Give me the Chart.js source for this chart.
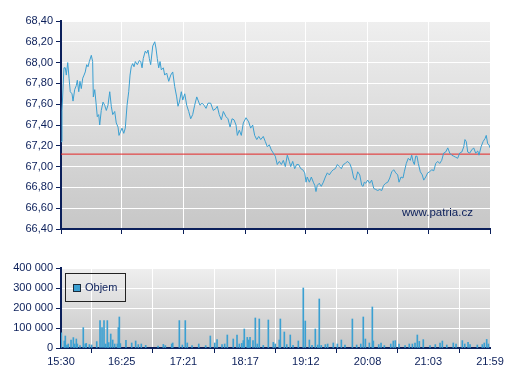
<!DOCTYPE html>
<html>
<head>
<meta charset="utf-8">
<script src="https://cdn.jsdelivr.net/npm/chart.js@4/dist/chart.umd.min.js"></script>
<style>
  body { margin: 0; background: #fff; }
  #wrap { position: relative; width: 507px; height: 380px; font-family: "Liberation Sans", Arial, sans-serif; }
  #priceChart { position: absolute; left: 0; top: 0; }
  #volChart { position: absolute; left: 0; top: 240px; }
  .watermark { position: absolute; left: 402px; top: 206px; font-size: 11.5px; color: #0b1f5a; }
  .legend { position: absolute; left: 65px; top: 273px; width: 59px; height: 27px; border: 1px solid #222; }
  .legend .sw { position: absolute; left: 7px; top: 10px; width: 6px; height: 6px; border: 1px solid #1a2a3a; background: #3ba0d2; }
  .legend .lbl { position: absolute; left: 19px; top: 7px; font-size: 11px; color: #0b1f5a; }
</style>
</head>
<body>
<div id="wrap">
  <canvas id="priceChart" width="507" height="240"></canvas>
  <canvas id="volChart" width="507" height="140"></canvas>
  <div class="watermark">www.patria.cz</div>
  <div class="legend"><div class="sw"></div><div class="lbl">Objem</div></div>
</div>
<script>
// time axis labels (session 15:30 - 21:59)
const tickLabels = ["15:30", "16:25", "17:21", "18:17", "19:12", "20:08", "21:03", "21:59"];
const refPrice = 67.12;

// minutes after 15:30
const priceTimes = [
  0, 0.9, 2.7, 3.9, 4.8, 6.1, 7.3, 8.4, 10.0, 10.9,
  12.4, 13.9, 14.8, 16.1, 17.2, 18.4, 19.7, 20.9, 22.0, 23.3,
  24.5, 25.7, 27.5, 28.7, 29.3, 30.6, 31.7, 32.9, 34.2, 35.1,
  36.5, 38.1, 39.6, 41.1, 42.6, 44.2, 45.6, 46.9, 48.7, 50.1,
  51.7, 52.6, 54.1, 55.3, 56.9, 58.3, 59.9, 61.4, 62.6, 63.7,
  65.0, 66.2, 67.4, 69.2, 71.0, 72.3, 73.5, 74.6, 76.4, 77.7,
  78.9, 80.1, 81.3, 83.2, 85.0, 86.1, 87.3, 88.6, 89.8, 91.0,
  92.8, 94.0, 95.8, 97.7, 99.5, 101.3, 103.1, 104.9, 106.1, 107.3,
  109.1, 110.4, 112.2, 114.0, 115.8, 117.6, 119.4, 121.2, 123.1, 124.2,
  126.0, 127.9, 129.7, 131.5, 133.3, 135.7, 138.1, 140.6, 141.7, 143.5,
  145.4, 147.2, 149.6, 151.4, 153.3, 155.1, 156.9, 158.7, 159.9, 161.7,
  163.5, 165.3, 167.8, 170.2, 172.0, 173.8, 175.6, 177.5, 179.3, 181.1,
  183.4, 185.3, 187.1, 188.9, 190.7, 192.5, 194.3, 196.1, 198.0, 199.8,
  201.6, 203.4, 205.2, 207.0, 208.3, 210.1, 211.9, 213.7, 215.5, 217.4,
  219.2, 221.0, 222.2, 223.3, 225.2, 227.0, 228.8, 230.1, 231.2, 232.4,
  234.2, 236.0, 237.9, 239.7, 241.5, 243.3, 245.1, 246.9, 248.7, 250.6,
  252.4, 254.2, 256.0, 257.8, 259.6, 261.8, 263.6, 265.4, 267.2, 269.0,
  270.9, 272.7, 273.9, 275.0, 276.3, 278.1, 279.9, 281.7, 283.6, 285.4,
  287.2, 289.0, 290.8, 292.6, 294.4, 296.3, 298.1, 299.9, 301.7, 303.5,
  305.3, 306.5, 308.3, 310.1, 311.3, 313.1, 314.9, 316.7, 318.0, 319.2,
  320.4, 321.6, 322.8, 324.0, 325.8, 327.6, 328.9, 330.7, 332.5, 334.3,
  336.1, 338.0, 339.8, 341.6, 343.4, 345.2, 347.0, 348.8, 350.7, 352.5,
  354.3, 356.1, 357.9, 359.7, 361.5, 363.4, 365.2, 366.3, 367.5, 368.8,
  370.6, 372.4, 374.2, 376.0, 377.9, 379.0, 380.9, 382.7, 384.5, 385.6,
  386.9, 388.1, 389
];
const prices = [
  67.24, 67.54, 67.95, 67.95, 67.88, 68.00, 67.85, 67.72, 67.70, 67.63,
  67.74, 67.78, 67.83, 67.72, 67.82, 67.75, 67.85, 67.88, 67.91, 67.98,
  67.96, 68.01, 68.07, 68.01, 67.67, 67.74, 67.62, 67.48, 67.50, 67.40,
  67.54, 67.62, 67.59, 67.54, 67.59, 67.72, 67.58, 67.50, 67.53, 67.42,
  67.38, 67.30, 67.34, 67.37, 67.32, 67.37, 67.59, 67.72, 67.88, 67.96,
  67.99, 67.96, 68.01, 67.98, 68.02, 68.01, 67.95, 68.04, 68.11, 68.09,
  68.12, 68.04, 67.98, 68.16, 68.20, 68.14, 68.04, 67.95, 68.01, 67.93,
  67.95, 67.88, 67.90, 67.82, 67.88, 67.91, 67.77, 67.67, 67.58, 67.62,
  67.72, 67.64, 67.70, 67.59, 67.53, 67.46, 67.50, 67.59, 67.67, 67.64,
  67.59, 67.61, 67.59, 67.56, 67.61, 67.61, 67.54, 67.56, 67.58, 67.50,
  67.45, 67.53, 67.48, 67.46, 67.38, 67.46, 67.45, 67.40, 67.30, 67.35,
  67.30, 67.42, 67.47, 67.43, 67.37, 67.40, 67.30, 67.26, 67.29, 67.26,
  67.29, 67.24, 67.19, 67.21, 67.16, 67.13, 67.10, 67.02, 67.05, 67.02,
  67.06, 67.00, 67.11, 67.05, 67.00, 67.05, 66.98, 67.02, 67.02, 66.98,
  66.97, 66.94, 66.85, 66.90, 66.85, 66.90, 66.85, 66.82, 66.76, 66.82,
  66.84, 66.81, 66.85, 66.90, 66.94, 66.92, 66.95, 66.97, 66.98, 67.02,
  67.00, 66.98, 67.02, 67.03, 67.05, 67.03, 66.98, 66.89, 66.87, 66.95,
  66.92, 66.82, 66.81, 66.85, 66.84, 66.87, 66.84, 66.87, 66.79, 66.78,
  66.77, 66.78, 66.77, 66.82, 66.84, 66.85, 66.89, 66.95, 66.97, 66.94,
  66.92, 66.85, 66.90, 66.89, 66.95, 67.03, 67.08, 67.06, 67.11, 67.05,
  67.02, 67.10, 67.10, 67.03, 66.95, 66.92, 66.87, 66.90, 66.94, 66.95,
  66.97, 66.96, 67.03, 67.05, 67.03, 67.06, 67.13, 67.14, 67.18, 67.13,
  67.11, 67.10, 67.09, 67.08, 67.13, 67.14, 67.19, 67.26, 67.24, 67.14,
  67.13, 67.16, 67.18, 67.13, 67.15, 67.11, 67.19, 67.24, 67.27, 67.30,
  67.22, 67.21, 67.18
];

const volTimes = [
  0.3, 3.0, 3.9, 5.4, 6.6, 9.1, 11.2, 12.4, 13.9, 14.8,
  17.2, 20.2, 22.0, 22.9, 25.7, 27.8, 32.4, 35.4, 37.2, 39.0,
  40.5, 42.0, 43.3, 45.1, 46.9, 48.7, 51.1, 52.0, 52.9, 53.8,
  58.9, 64.1, 67.7, 70.1, 72.8, 76.8, 88.0, 92.8, 94.6, 100.4,
  101.3, 107.3, 110.0, 112.7, 114.5, 118.8, 124.9, 131.2, 135.4, 139.4,
  141.5, 146.0, 148.4, 150.8, 156.2, 159.6, 161.7, 163.9, 165.3, 166.2,
  168.9, 170.2, 171.4, 174.1, 176.2, 178.0, 179.8, 183.4, 188.0, 192.5,
  194.3, 197.9, 198.9, 202.5, 204.7, 207.9, 210.4, 215.2, 219.7, 221.5,
  225.2, 227.6, 230.6, 232.8, 234.2, 236.0, 239.7, 241.8, 246.9, 250.6,
  254.2, 257.5, 264.2, 268.1, 271.8, 274.1, 276.0, 279.6, 282.3, 283.2,
  288.1, 290.2, 293.2, 299.0, 301.3, 303.1, 306.5, 312.0, 315.8, 318.6,
  321.0, 323.1, 324.9, 328.5, 334.6, 339.4, 343.7, 345.8, 349.8, 355.7,
  358.2, 363.9, 366.1, 369.1, 370.9, 377.5, 382.0, 383.8, 386.0, 387.5
];
const volumes = [
  76000, 35000, 60000, 15000, 20000, 40000, 52000, 20000, 45000, 20000,
  12000, 102000, 20000, 23000, 17000, 15000, 32000, 137000, 102000, 137000,
  20000, 137000, 27000, 70000, 40000, 20000, 20000, 102000, 155000, 22000,
  38000, 25000, 35000, 17000, 20000, 13000, 10000, 18000, 12000, 20000,
  25000, 137000, 15000, 137000, 25000, 12000, 20000, 12000, 60000, 25000,
  42000, 17000, 20000, 65000, 45000, 65000, 20000, 23000, 37000, 95000,
  53000, 40000, 53000, 37000, 150000, 20000, 145000, 13000, 140000, 28000,
  20000, 40000, 145000, 80000, 17000, 65000, 13000, 35000, 300000, 135000,
  40000, 13000, 95000, 15000, 245000, 13000, 17000, 20000, 25000, 20000,
  40000, 15000, 145000, 15000, 20000, 155000, 45000, 25000, 205000, 35000,
  17000, 25000, 12000, 20000, 35000, 37000, 20000, 12000, 20000, 20000,
  25000, 65000, 33000, 42000, 12000, 17000, 25000, 35000, 15000, 25000,
  20000, 37000, 20000, 28000, 17000, 15000, 17000, 25000, 43000, 20000
];

const NAVY = "#0b1f5a";
const BLUE = "#3ba0d2";
Chart.defaults.font.family = "'Liberation Sans', Arial, sans-serif";
Chart.defaults.font.size = 11;
Chart.defaults.color = NAVY;

function toMinutes(label) {
  const [h, m] = label.split(":").map(Number);
  return h * 60 + m - (15 * 60 + 30);
}
const tickValues = tickLabels.map(toMinutes);
const sessionEnd = tickValues[tickValues.length - 1];

const areaGradient = {
  id: "areaGradient",
  beforeDraw(chart) {
    const { ctx, chartArea: a } = chart;
    const g = ctx.createLinearGradient(0, a.top, 0, a.bottom);
    g.addColorStop(0, "#efefef");
    g.addColorStop(1, "#c7c7c7");
    ctx.save();
    ctx.fillStyle = g;
    ctx.fillRect(a.left, a.top, a.right - a.left, a.bottom - a.top);
    ctx.restore();
  }
};

function timeAxis(showLabels, height) {
  return {
    type: "linear",
    min: 0,
    max: sessionEnd,
    offset: false,
    afterBuildTicks: (scale) => { scale.ticks = tickValues.map((v) => ({ value: v })); },
    afterFit: (scale) => { scale.height = height; },
    grid: { color: "#ffffff", lineWidth: 1, drawTicks: true, tickLength: 5, tickColor: NAVY },
    border: { color: NAVY, width: 2 },
    ticks: {
      display: showLabels,
      autoSkip: false,
      maxRotation: 0,
      padding: 2,
      callback: (v, i) => tickLabels[i]
    }
  };
}

new Chart(document.getElementById("priceChart"), {
  type: "line",
  data: {
    datasets: [
      {
        data: [{ x: 0, y: refPrice }, { x: sessionEnd, y: refPrice }],
        borderColor: "#e32424",
        borderWidth: 1,
        pointRadius: 0,
        order: 2
      },
      {
        data: priceTimes.map((t, i) => ({ x: t, y: prices[i] })),
        borderColor: BLUE,
        borderWidth: 1,
        pointRadius: 0,
        tension: 0,
        order: 1
      }
    ]
  },
  options: {
    responsive: false,
    animation: false,
    layout: { padding: { top: 21, right: 17, left: 0, bottom: 0 } },
    plugins: { legend: { display: false }, tooltip: { enabled: false } },
    scales: {
      x: timeAxis(false, 11),
      y: {
        min: 66.4,
        max: 68.4,
        afterFit: (scale) => { scale.width = 61; },
        ticks: { stepSize: 0.2, padding: 3, callback: (v) => v.toFixed(2).replace(".", ",") },
        grid: { color: "#ffffff", lineWidth: 1, tickLength: 5, tickColor: NAVY },
        border: { color: NAVY, width: 2 }
      }
    }
  },
  plugins: [areaGradient]
});

new Chart(document.getElementById("volChart"), {
  type: "bar",
  data: {
    datasets: [{
      label: "Objem",
      data: volTimes.map((t, i) => ({ x: t, y: volumes[i] })),
      backgroundColor: BLUE,
      barThickness: 1
    }]
  },
  options: {
    responsive: false,
    animation: false,
    layout: { padding: { top: 28, right: 17, left: 0, bottom: 0 } },
    plugins: { legend: { display: false }, tooltip: { enabled: false } },
    scales: {
      x: timeAxis(true, 32),
      y: {
        min: 0,
        max: 400000,
        afterFit: (scale) => { scale.width = 61; },
        ticks: {
          stepSize: 100000,
          padding: 3,
          callback: (v) => String(v).replace(/\B(?=(\d{3})+(?!\d))/g, " ")
        },
        grid: { color: "#ffffff", lineWidth: 1, tickLength: 5, tickColor: NAVY },
        border: { color: NAVY, width: 2 }
      }
    }
  },
  plugins: [areaGradient]
});
</script>
</body>
</html>
